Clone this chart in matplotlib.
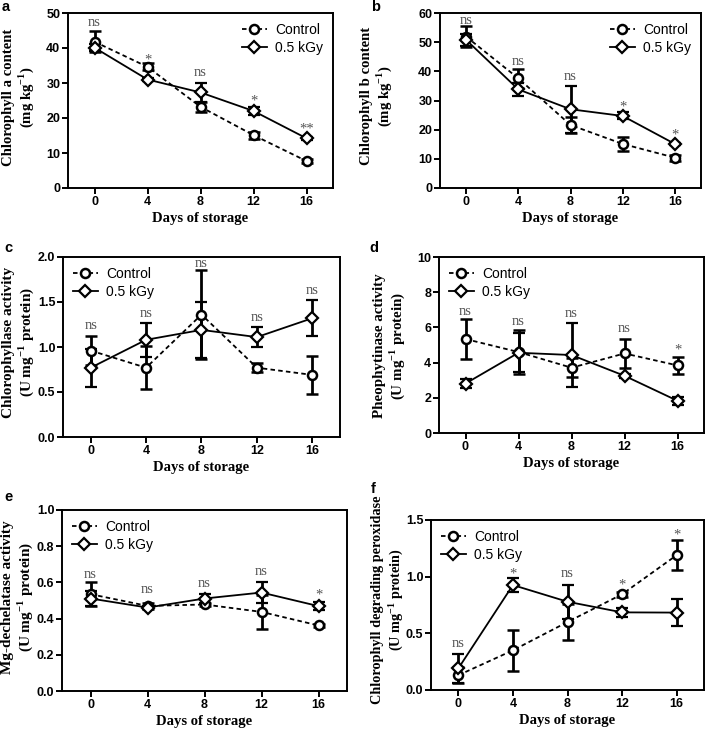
import matplotlib
matplotlib.use("Agg")
import matplotlib.pyplot as plt

plt.rcParams["mathtext.fontset"] = "custom"
plt.rcParams["mathtext.rm"] = "Liberation Serif"
plt.rcParams["mathtext.bf"] = "Liberation Serif:bold"

days = [0, 4, 8, 12, 16]

# a - chlorophyll a
a_ctrl = [41.8, 34.6, 23.2, 15.1, 7.7]
a_ctrl_err = [3.0, 1.0, 1.5, 1.0, 0.5]
a_gy = [40.1, 31.0, 27.3, 22.0, 14.2]
a_gy_err = [1.0, 0.5, 2.7, 1.2, 0.5]
a_sig = ["ns", "*", "ns", "*", "**"]
a_sig_y = [46.2, 35.7, 32.1, 23.8, 15.9]

# b - chlorophyll b
b_ctrl = [51.9, 37.6, 21.6, 15.1, 10.4]
b_ctrl_err = [3.6, 3.2, 2.8, 2.5, 1.0]
b_gy = [50.8, 33.8, 27.0, 24.7, 15.1]
b_gy_err = [2.0, 2.2, 8.1, 1.2, 0.5]
b_sig = ["ns", "ns", "ns", "*", "*"]
b_sig_y = [56.4, 42.1, 37.0, 26.4, 17.1]

# c - chlorophyllase
c_ctrl = [0.96, 0.77, 1.36, 0.77, 0.69]
c_ctrl_err = [0.16, 0.24, 0.49, 0.05, 0.21]
c_gy = [0.77, 1.08, 1.19, 1.11, 1.32]
c_gy_err = [0.21, 0.19, 0.31, 0.11, 0.20]
c_sig = ["ns", "ns", "ns", "ns", "ns"]
c_sig_y = [1.20, 1.33, 1.89, 1.285, 1.59]

# d - pheophytinase
d_ctrl = [5.34, 4.60, 3.71, 4.52, 3.84]
d_ctrl_err = [1.12, 1.25, 0.55, 0.82, 0.48]
d_gy = [2.81, 4.56, 4.43, 3.25, 1.83]
d_gy_err = [0.25, 1.12, 1.84, 0.10, 0.22]
d_sig = ["ns", "ns", "ns", "ns", "*"]
d_sig_y = [6.71, 6.14, 6.58, 5.76, 4.52]

# e - Mg-dechelatase
e_ctrl = [0.535, 0.470, 0.478, 0.437, 0.362]
e_ctrl_err = [0.065, 0.015, 0.010, 0.095, 0.010]
e_gy = [0.511, 0.461, 0.511, 0.544, 0.469]
e_gy_err = [0.040, 0.010, 0.025, 0.056, 0.020]
e_sig = ["ns", "ns", "ns", "ns", "*"]
e_sig_y = [0.627, 0.539, 0.572, 0.64, 0.511]

# f - chlorophyll degrading peroxidase
f_ctrl = [0.13, 0.35, 0.60, 0.845, 1.19]
f_ctrl_err = [0.07, 0.18, 0.16, 0.02, 0.135]
f_gy = [0.19, 0.926, 0.779, 0.685, 0.683]
f_gy_err = [0.13, 0.06, 0.15, 0.04, 0.12]
f_sig = ["ns", "*", "ns", "*", "*"]
f_sig_y = [0.382, 0.991, 0.994, 0.891, 1.338]

W, H = 707, 734
fig = plt.figure(figsize=(W / 100, H / 100), dpi=100)

SANS = "Liberation Sans"
SERIF = "Liberation Serif"


def box(l, t, r, b):
    return [l / W, 1 - b / H, (r - l) / W, (b - t) / H]


def panel(rect, letter, ctrl, ctrl_err, gy, gy_err, sig, sig_y,
          ylim, yticks, ylabel, lab_xy, lab_size, loc, fmt):
    ax = fig.add_axes(box(*rect))
    h1 = ax.errorbar(days, ctrl, yerr=ctrl_err, color="black",
                     ls=(0, (2.5, 1.8)), lw=1.3, marker="o", ms=6.5,
                     mfc="white", mec="black", mew=1.8, elinewidth=2.0,
                     capsize=4, capthick=2.0, zorder=3)
    h2 = ax.errorbar(days, gy, yerr=gy_err, color="black", ls="-", lw=1.3,
                     marker="D", ms=6, mfc="white", mec="black", mew=1.6,
                     elinewidth=2.0, capsize=4, capthick=2.0, zorder=3)
    for x, s, y in zip(days, sig, sig_y):
        ax.text(x, y, s, ha="center", va="baseline", color="#555555",
                fontsize=10.5, family=SERIF)
    ax.set_xlim(-2, 18)
    ax.set_ylim(*ylim)
    ax.set_xticks(days)
    ax.set_yticks(yticks)
    ax.set_yticklabels([fmt.format(v) for v in yticks])
    for lab in ax.get_xticklabels() + ax.get_yticklabels():
        lab.set_family(SANS)
        lab.set_fontweight("bold")
        lab.set_fontsize(9)
    ax.tick_params(direction="out", length=4, width=1.4, pad=1.5)
    for sp in ax.spines.values():
        sp.set_linewidth(1.4)
    ax.set_xlabel("Days of storage", family=SERIF, fontweight="bold",
                  fontsize=10.5, labelpad=3)
    ax.set_ylabel(ylabel, family=SERIF, fontweight="bold", fontsize=lab_size,
                  linespacing=1.1)
    ax.yaxis.label.set_verticalalignment("center")
    ax.yaxis.set_label_coords(lab_xy[0] / W, 1 - lab_xy[1] / H,
                              transform=fig.transFigure)
    ax.legend(handles=[h1[0], h2[0]], labels=["Control", "0.5 kGy"],
              loc=loc, frameon=False, handlelength=1.8,
              prop={"family": SANS, "size": 10}, borderaxespad=0.3,
              labelspacing=0.3, handletextpad=0.6)
    fig.text(letter[1] / W, 1 - letter[2] / H, letter[0], family=SANS,
             fontweight="bold", fontsize=10.5, ha="left", va="center")
    return ax


panel((68, 13, 333, 188), ("a", 2, 7), a_ctrl, a_ctrl_err, a_gy, a_gy_err,
      a_sig, a_sig_y, (0, 50), [0, 10, 20, 30, 40, 50],
      "Chlorophyll a content\n(mg kg$^{\\mathbf{-1}}$)", (19, 97), 10.6,
      "upper right", "{:g}")
panel((440, 13, 701, 188), ("b", 371, 7), b_ctrl, b_ctrl_err, b_gy, b_gy_err,
      b_sig, b_sig_y, (0, 60), [0, 10, 20, 30, 40, 50, 60],
      "Chlorophyll b content\n(mg kg$^{\\mathbf{-1}}$)", (377, 96), 10.6,
      "upper right", "{:g}")
panel((63, 257, 340, 437), ("c", 4, 248), c_ctrl, c_ctrl_err, c_gy, c_gy_err,
      c_sig, c_sig_y, (0, 2), [0, 0.5, 1.0, 1.5, 2.0],
      "Chlorophyllase activity\n(U mg$^{\\mathbf{-1}}$ protein)", (19, 342),
      11.0, "upper left", "{:.1f}")
panel((439, 257, 704, 433), ("d", 369, 248), d_ctrl, d_ctrl_err, d_gy,
      d_gy_err, d_sig, d_sig_y, (0, 10), [0, 2, 4, 6, 8, 10],
      "Pheophytinase activity\n(U mg$^{\\mathbf{-1}}$ protein)", (390, 346),
      10.8, "upper left", "{:g}")
panel((62, 510, 347, 691), ("e", 4, 497), e_ctrl, e_ctrl_err, e_gy, e_gy_err,
      e_sig, e_sig_y, (0, 1), [0, 0.2, 0.4, 0.6, 0.8, 1.0],
      "Mg-dechelatase activity\n(U mg$^{\\mathbf{-1}}$ protein)", (18, 597),
      11.0, "upper left", "{:.1f}")
panel((431, 520, 704, 690), ("f", 371, 489), f_ctrl, f_ctrl_err, f_gy,
      f_gy_err, f_sig, f_sig_y, (0, 1.5), [0, 0.5, 1.0, 1.5],
      "Chlorophyll degrading peroxidase\n(U mg$^{\\mathbf{-1}}$ protein)",
      (388, 600), 10.3, "upper left", "{:.1f}")

fig.savefig("out.png", dpi=100)
